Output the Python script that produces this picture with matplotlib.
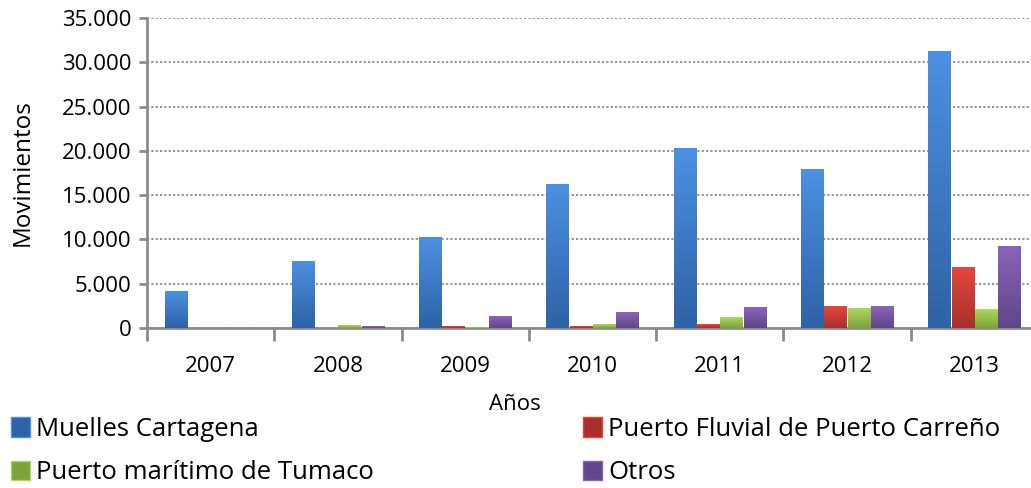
import numpy as np
import matplotlib
matplotlib.use("Agg")
import matplotlib.pyplot as plt
from matplotlib.colors import LinearSegmentedColormap
from matplotlib.patches import Patch
from matplotlib.ticker import FuncFormatter, MultipleLocator, FixedLocator

plt.rcParams['font.family'] = ['Open Sans', 'DejaVu Sans']

years = ["2007", "2008", "2009", "2010", "2011", "2012", "2013"]
series = ["Muelles Cartagena", "Puerto Fluvial de Puerto Carreño",
          "Puerto marítimo de Tumaco", "Otros"]
muelles = [4100, 7500, 10200, 16200, 20300, 17900, 31200]
fluvial = [0, 0, 200, 200, 450, 2400, 6800]
tumaco = [0, 250, 50, 450, 1150, 2150, 2050]
otros = [0, 200, 1300, 1700, 2300, 2400, 9200]
values = [muelles, fluvial, tumaco, otros]

# (top colour, bottom colour) for the gradient fill
grad = [("#4b90e2", "#2e63a5"),
        ("#e3473f", "#a8302c"),
        ("#acd85c", "#7da23a"),
        ("#8b63ba", "#5f4789")]

fig = plt.figure(figsize=(10.31, 4.88), dpi=100)
ax = fig.add_axes([147/1031, 1-328/488, (1038-147)/1031, 310/488])

x = np.arange(len(years))
w = 0.183
gap = 0.008
for i, (vals, (ctop, cbot)) in enumerate(zip(values, grad)):
    cmap = LinearSegmentedColormap.from_list("g%d" % i, [cbot, ctop])
    bars = ax.bar(x + (i - 1.5) * w, vals, w - gap, color=cbot, linewidth=0, zorder=2)
    for b in bars:
        h = b.get_height()
        if h <= 0:
            continue
        x0 = b.get_x()
        ax.imshow(np.linspace(0, 1, 50).reshape(-1, 1), cmap=cmap,
                  extent=[x0, x0 + b.get_width(), 0, h], origin="lower",
                  aspect="auto", zorder=3)

ax.set_xlim(-0.5, len(years) - 0.5)
ax.set_ylim(0, 35000)

ax.yaxis.set_major_locator(MultipleLocator(5000))
ax.yaxis.set_major_formatter(FuncFormatter(lambda v, p: "{:,.0f}".format(v).replace(",", ".")))
ax.grid(axis="y", color="#8c8c8c", linestyle=(0, (1.2, 1.2)), linewidth=1.3, zorder=0)

ax.set_xticks(x)
ax.set_xticklabels(years)
ax.xaxis.set_minor_locator(FixedLocator(np.arange(-0.5, len(years), 1)))
ax.tick_params(axis="x", which="major", length=0, labelsize=16, pad=20)
ax.tick_params(axis="x", which="minor", length=9, width=2, color="#8c8c8c")
ax.tick_params(axis="y", length=6, width=2, color="#8c8c8c", labelsize=16, pad=5)

for s in ["top", "right"]:
    ax.spines[s].set_visible(False)
for s in ["left", "bottom"]:
    ax.spines[s].set_color("#8c8c8c")
    ax.spines[s].set_linewidth(2)

ax.set_ylabel("Movimientos", fontsize=17.5, labelpad=0)
ax.yaxis.set_label_coords(-112/891, 0.5)
fig.text(515/1031, 1-404/488, "Años", fontsize=16, ha="center", va="center")

handles = [Patch(facecolor=c[1], edgecolor=c[0]) for c in grad]
order = [0, 2, 1, 3]
fig.legend([handles[k] for k in order], [series[k] for k in order], ncol=2,
           loc="upper left", bbox_to_anchor=(-0.0017, 1-404/488), frameon=False,
           fontsize=18.5, handlelength=0.72, handleheight=0.8, handletextpad=0.25,
           columnspacing=8.15, labelspacing=0.72, borderpad=0)

fig.savefig("out.png", dpi=100)
